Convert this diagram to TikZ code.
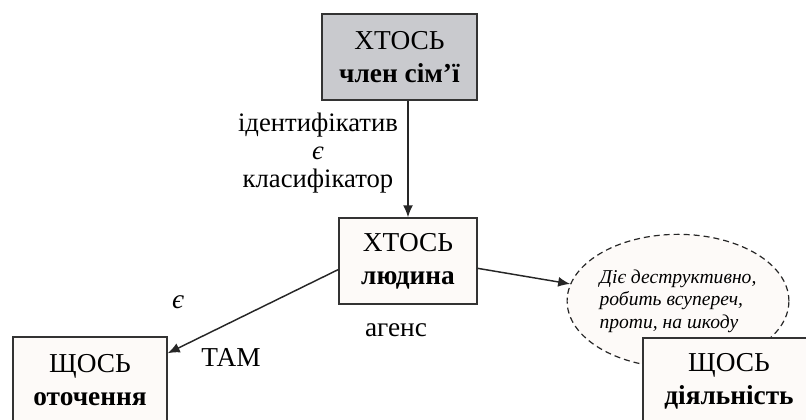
\documentclass[tikz,border=0pt]{standalone}
\usepackage{fontspec}
\setmainfont{Liberation Serif}
\usetikzlibrary{shapes.geometric, arrows.meta}
\definecolor{boxgray}{RGB}{201,202,206}
\definecolor{boxpale}{RGB}{253,250,248}

\begin{document}
\begin{tikzpicture}[x=0.75pt, y=-0.75pt]
	\tikzstyle{every node} = [font=\fontsize{20.5}{24.5}\selectfont]
	\tikzstyle{box} = [draw=black!80, line width=1.1pt, fill=boxpale, align=center, minimum height=64.5pt, inner sep=0pt]
	\tikzstyle{conn} = [draw=black!85, line width=1.1pt, -{Latex[length=9pt, width=7.5pt]}]
	\clip (0,0) rectangle (806,419);
	\node[box, fill=boxgray, minimum width=116.25pt] (who) at (399.5, 57) {ХТОСЬ\\\textbf{член сім’ї}};
	\node[box, minimum width=103.5pt] (mid) at (408, 261) {ХТОСЬ\\\textbf{людина}};
	\node[box, minimum width=115.5pt] (env) at (90, 380) {ЩОСЬ\\\textbf{оточення}};
	\node[ellipse, draw=black!85, line width=0.9pt, dash pattern=on 4.5pt off 3pt, fill=boxpale, minimum width=155pt, minimum height=100pt, inner sep=0pt, align=left, font=\fontsize{14.7}{17}\selectfont\itshape] (act) at (678, 301) {Діє деструктивно,\\робить всупереч,\\проти, на шкоду};
	\node[box, minimum width=129pt] (deed) at (729, 381) {ЩОСЬ\\\textbf{діяльність}};
	\node[align=center, font=\fontsize{20}{21}\selectfont] (idlab) at (318, 153) {ідентифікатив\\{\itshape є}\\класифікатор};
	\node (eps) at (178, 302) {\itshape є};
	\node (tam) at (231, 357) {ТАМ};
	\node (agent) at (396, 330) {агенс};
	\draw[conn] (who.south -| mid.north) -- (mid.north);
	\draw[conn] (mid.187) -- (env.19);
	\draw[conn] (mid.-6) -- (act.171);
\end{tikzpicture}
\end{document}
